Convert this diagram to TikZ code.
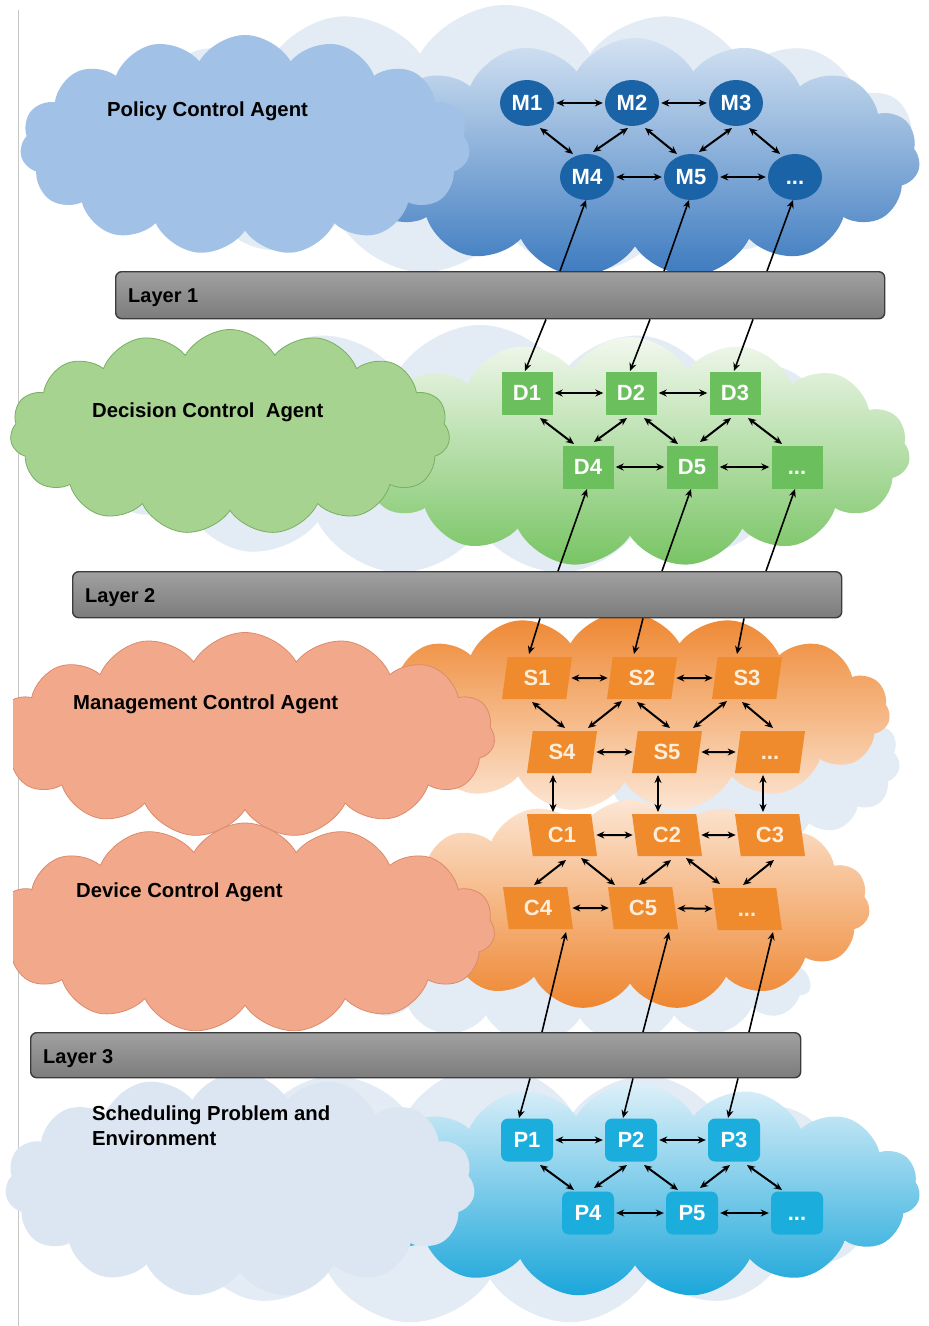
\documentclass[tikz,border=0pt]{standalone}
\usepackage{fontspec}
\setmainfont{Liberation Sans}
\usetikzlibrary{shapes.geometric,shapes.symbols,arrows.meta,calc}

\definecolor{paleblue}{HTML}{E3EBF5}
\definecolor{bluecl}{HTML}{A2C1E6}
\definecolor{bluetop}{HTML}{D3E2F2}
\definecolor{bluebot}{HTML}{3C7ABF}
\definecolor{greencl}{HTML}{A6D38F}
\definecolor{greenedge}{HTML}{7AAE62}
\definecolor{greentop}{HTML}{F2F8EE}
\definecolor{greenbot}{HTML}{78C463}
\definecolor{salmon}{HTML}{F2A98B}
\definecolor{salmonedge}{HTML}{DD8A6B}
\definecolor{orangedeep}{HTML}{EE8630}
\definecolor{orangelight}{HTML}{FCE6D4}
\definecolor{schedpale}{HTML}{DCE6F2}
\definecolor{cyantop}{HTML}{DDF0F9}
\definecolor{cyanbot}{HTML}{1AA6DA}
\definecolor{mnode}{HTML}{1A63A6}
\definecolor{dnode}{HTML}{6BBF5C}
\definecolor{snode}{HTML}{EF8A2D}
\definecolor{stext}{HTML}{FDEEDC}
\definecolor{pnode}{HTML}{1BADDC}
\definecolor{bartop}{HTML}{A0A0A0}
\definecolor{barbot}{HTML}{7C7C7C}
\definecolor{baredge}{HTML}{3C3C3C}

\begin{document}
\begin{tikzpicture}[x=1pt,y=-1pt,
  puffy/.style={cloud, cloud puffs=15, cloud puff arc=120, inner sep=0pt},
  agentlbl/.style={font=\bfseries\fontsize{20.3}{25}\selectfont, anchor=base west, inner sep=0pt, align=left},
  bar/.style={rounded corners=6pt, draw=baredge, line width=1.4pt, top color=bartop, bottom color=barbot, anchor=north west, inner sep=0pt},
  barlbl/.style={font=\bfseries\fontsize{20}{24}\selectfont, anchor=base west, inner sep=0pt},
  nodefont/.style={font=\bfseries\fontsize{22}{24}\selectfont, inner sep=0pt, text height=15.8pt, text depth=0pt},
  mbox/.style={nodefont, ellipse, fill=mnode, text=white, minimum width=54pt, minimum height=46pt},
  dbox/.style={nodefont, rectangle, fill=dnode, text=white, minimum width=51pt, minimum height=43pt},
  pbox/.style={nodefont, rectangle, rounded corners=7pt, fill=pnode, text=white, minimum width=52pt, minimum height=43pt},
  sbox/.style={nodefont, trapezium, trapezium left angle=70, trapezium right angle=110, trapezium stretches body, fill=snode, text=stext, minimum width=70pt, minimum height=42pt},
  cbox/.style={nodefont, trapezium, trapezium left angle=110, trapezium right angle=70, trapezium stretches body, fill=snode, text=stext, minimum width=70pt, minimum height=42pt},
  link/.style={{Stealth[length=8pt,width=7pt]}-{Stealth[length=8pt,width=7pt]}, line width=2pt},
  hlink/.style={link, shorten <=2pt, shorten >=2pt},
  feed/.style={-{Stealth[length=8pt,width=7pt]}, line width=1.6pt}
]
\useasboundingbox (0,0) rectangle (929,1326);
\fill[white] (0,0) rectangle (929,1326);
\draw[black!22, line width=1pt] (18,10) -- (18,1326);

% ---------- pale background clouds ----------
\node[puffy, fill=paleblue, minimum width=820pt, minimum height=270pt] (bgA) at (505,140) {};
\node[puffy, fill=paleblue, minimum width=800pt, minimum height=250pt] (bgB) at (480,450) {};
\node[puffy, fill=paleblue, minimum width=300pt, minimum height=170pt] (bgC) at (750,760) {};
\node[puffy, fill=paleblue, minimum width=460pt, minimum height=120pt] (bgD) at (580,985) {};
\node[puffy, fill=paleblue, minimum width=800pt, minimum height=260pt] (bgE) at (490,1195) {};

% ---------- layer clouds ----------
\node[puffy, top color=bluetop, bottom color=bluebot, minimum width=570pt, minimum height=240pt] (cPr) at (635,158) {};
\node[puffy, fill=bluecl, minimum width=450pt, minimum height=220pt] (cPl) at (245,145) {};

\node[puffy, top color=greentop, bottom color=greenbot, minimum width=560pt, minimum height=230pt] (cDr) at (630,452) {};
\node[puffy, fill=greencl, draw=greenedge, line width=0.8pt, minimum width=440pt, minimum height=205pt] (cDl) at (230,432) {};

\node[puffy, top color=orangedeep, bottom color=orangelight, minimum width=530pt, minimum height=200pt] (cMr) at (625,712) {};
\node[puffy, top color=orangelight, bottom color=orangedeep, minimum width=480pt, minimum height=210pt] (cVr) at (630,905) {};
\begin{scope}
  \clip (13,600) rectangle (929,1040);
  \node[puffy, fill=salmon, draw=salmonedge, line width=0.8pt, minimum width=500pt, minimum height=205pt] (cMl) at (245,735) {};
  \node[puffy, fill=salmon, draw=salmonedge, line width=0.8pt, minimum width=500pt, minimum height=210pt] (cVl) at (245,928) {};
\end{scope}

\node[puffy, top color=cyantop, bottom color=cyanbot, minimum width=570pt, minimum height=215pt] (cSr) at (635,1190) {};
\node[puffy, fill=schedpale, minimum width=470pt, minimum height=225pt] (cSl) at (240,1185) {};

% ---------- agent labels ----------
\node[agentlbl] (tP) at (107,116) {Policy Control Agent};
\node[agentlbl] (tD) at (92,417) {Decision Control\ \ Agent};
\node[agentlbl] (tM) at (73,709) {Management Control Agent};
\node[agentlbl] (tV) at (76,897) {Device Control Agent};
\node[agentlbl] (tS) at (92,1145) {Scheduling Problem and\\Environment};

% ---------- layer bars ----------
\node[bar, minimum width=769pt, minimum height=47pt] (L1) at (115,271) {};
\node[barlbl] (L1t) at (128,302) {Layer 1};
\node[bar, minimum width=769pt, minimum height=46pt] (L2) at (72,571) {};
\node[barlbl] (L2t) at (85,602) {Layer 2};
\node[bar, minimum width=770pt, minimum height=45pt] (L3) at (30,1032) {};
\node[barlbl] (L3t) at (43,1063) {Layer 3};

% ---------- policy agents ----------
\node[mbox] (M1) at (527,103) {M1};
\node[mbox] (M2) at (632,103) {M2};
\node[mbox] (M3) at (736,103) {M3};
\node[mbox] (M4) at (587,177) {M4};
\node[mbox] (M5) at (691,177) {M5};
\node[mbox] (M6) at (795,177) {...};

% ---------- decision agents ----------
\node[dbox] (D1) at (527,393) {D1};
\node[dbox] (D2) at (631,393) {D2};
\node[dbox] (D3) at (735,393) {D3};
\node[dbox] (D4) at (588,467) {D4};
\node[dbox] (D5) at (692,467) {D5};
\node[dbox] (D6) at (797,467) {...};

% ---------- management agents ----------
\node[sbox] (S1) at (537,678) {S1};
\node[sbox] (S2) at (642,678) {S2};
\node[sbox] (S3) at (747,678) {S3};
\node[sbox] (S4) at (562,752) {S4};
\node[sbox] (S5) at (667,752) {S5};
\node[sbox] (S6) at (770,752) {...};

% ---------- device agents ----------
\node[cbox] (C1) at (562,835) {C1};
\node[cbox] (C2) at (667,835) {C2};
\node[cbox] (C3) at (770,835) {C3};
\node[cbox] (C4) at (538,908) {C4};
\node[cbox] (C5) at (643,908) {C5};
\node[cbox] (C6) at (747,909) {...};

% ---------- problem agents ----------
\node[pbox] (P1) at (527,1140) {P1};
\node[pbox] (P2) at (631,1140) {P2};
\node[pbox] (P3) at (734,1140) {P3};
\node[pbox] (P4) at (588,1213) {P4};
\node[pbox] (P5) at (692,1213) {P5};
\node[pbox] (P6) at (797,1213) {...};

% ---------- horizontal links ----------
\foreach \g in {M,D,S,C,P}{
  \draw[hlink] (\g1) -- (\g2);
  \draw[hlink] (\g2) -- (\g3);
  \draw[hlink] (\g4) -- (\g5);
  \draw[hlink] (\g5) -- (\g6);
}

% ---------- diagonal links: M, D, P ----------
\foreach \g in {M,D,P}{
  \draw[link] ($(\g1)+(13,25)$) -- ($(\g4)+(-14,-23)$);
  \draw[link] ($(\g2)+(13,25)$) -- ($(\g5)+(-14,-23)$);
  \draw[link] ($(\g3)+(13,25)$) -- ($(\g6)+(-15,-23)$);
  \draw[link] ($(\g2)+(-4,25)$) -- ($(\g4)+(6,-25)$);
  \draw[link] ($(\g3)+(-4,25)$) -- ($(\g5)+(8,-25)$);
}

% ---------- diagonal links: S ----------
\draw[link] ($(S1)+(-5,24)$) -- ($(S4)+(3,-24)$);
\draw[link] ($(S2)+(-5,24)$) -- ($(S5)+(3,-24)$);
\draw[link] ($(S3)+(-5,24)$) -- ($(S6)+(3,-24)$);
\draw[link] ($(S2)+(-20,23)$) -- ($(S4)+(26,-24)$);
\draw[link] ($(S3)+(-20,23)$) -- ($(S5)+(26,-24)$);

% ---------- diagonal links: C ----------
\draw[link] ($(C1)+(4,25)$) -- ($(C4)+(-4,-23)$);
\draw[link] ($(C2)+(4,25)$) -- ($(C5)+(-4,-23)$);
\draw[link] ($(C3)+(4,25)$) -- ($(C6)+(-4,-24)$);
\draw[link] ($(C1)+(19,23)$) -- ($(C5)+(-28,-23)$);
\draw[link] ($(C2)+(19,23)$) -- ($(C6)+(-27,-25)$);

% ---------- management to device ----------
\draw[link] ($(S4)+(-9,23)$) -- ($(C1)+(-9,-23)$);
\draw[link] ($(S5)+(-9,23)$) -- ($(C2)+(-9,-23)$);
\draw[link] ($(S6)+(-7,23)$) -- ($(C3)+(-7,-23)$);

% ---------- layer feeds ----------
\draw[feed] ($(L1.north west)+(445,0)$) -- ($(M4)+(-1,23)$);
\draw[feed] ($(L1.north west)+(549,0)$) -- ($(M5)+(-2,23)$);
\draw[feed] ($(L1.north west)+(652,0)$) -- ($(M6)+(-2,23)$);
\draw[feed] ($(L1.south west)+(431,0)$) -- ($(D1)+(-2,-22)$);
\draw[feed] ($(L1.south west)+(535,0)$) -- ($(D2)+(-1,-22)$);
\draw[feed] ($(L1.south west)+(638,0)$) -- ($(D3)+(-1,-22)$);

\draw[feed] ($(L2.north west)+(486,0)$) -- ($(D4)+(-1,22)$);
\draw[feed] ($(L2.north west)+(590,0)$) -- ($(D5)+(-1,22)$);
\draw[feed] ($(L2.north west)+(694,0)$) -- ($(D6)+(-2,22)$);
\draw[feed] ($(L2.south west)+(468,0)$) -- ($(S1)+(-8,-24)$);
\draw[feed] ($(L2.south west)+(571,0)$) -- ($(S2)+(-8,-24)$);
\draw[feed] ($(L2.south west)+(672,0)$) -- ($(S3)+(-10,-24)$);

\draw[feed] ($(L3.north west)+(512,0)$) -- ($(C4)+(28,24)$);
\draw[feed] ($(L3.north west)+(613,0)$) -- ($(C5)+(26,24)$);
\draw[feed] ($(L3.north west)+(719,0)$) -- ($(C6)+(26,23)$);
\draw[feed] ($(L3.south west)+(500,0)$) -- ($(P1)+(-8,-22)$);
\draw[feed] ($(L3.south west)+(603,0)$) -- ($(P2)+(-8,-22)$);
\draw[feed] ($(L3.south west)+(708,0)$) -- ($(P3)+(-6,-22)$);
\end{tikzpicture}
\end{document}
